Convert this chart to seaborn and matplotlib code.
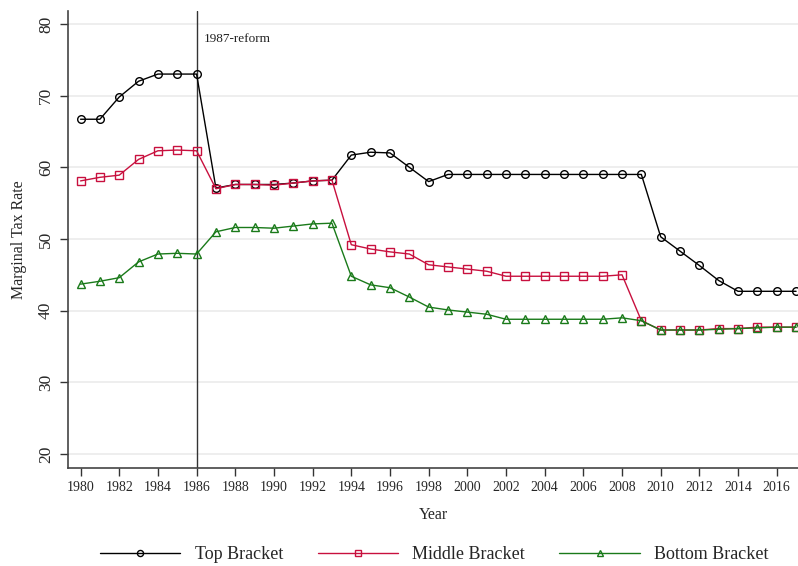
import numpy as np
import pandas as pd
import matplotlib
matplotlib.use("Agg")
import matplotlib.pyplot as plt
import seaborn as sns

years = list(range(1980, 2018))
top = [66.7, 66.7, 69.8, 72.0, 73.0, 73.0, 73.0, 57.1, 57.6, 57.6, 57.6, 57.8, 58.1, 58.2,
       61.7, 62.1, 62.0, 60.0, 58.0, 59.0, 59.0, 59.0, 59.0, 59.0, 59.0, 59.0, 59.0, 59.0,
       59.0, 59.0, 50.3, 48.3, 46.3, 44.2, 42.7, 42.7, 42.7, 42.7]
middle = [58.1, 58.6, 58.9, 61.1, 62.3, 62.4, 62.3, 57.0, 57.6, 57.6, 57.5, 57.8, 58.1, 58.2,
          49.2, 48.6, 48.2, 47.9, 46.4, 46.1, 45.8, 45.5, 44.8, 44.8, 44.8, 44.8, 44.8, 44.8,
          45.0, 38.6, 37.3, 37.3, 37.3, 37.5, 37.5, 37.7, 37.7, 37.7]
bottom = [43.7, 44.1, 44.6, 46.8, 47.9, 48.0, 47.9, 51.0, 51.6, 51.6, 51.5, 51.8, 52.1, 52.2,
          44.8, 43.6, 43.2, 41.9, 40.5, 40.1, 39.8, 39.5, 38.8, 38.8, 38.8, 38.8, 38.8, 38.8,
          39.0, 38.6, 37.3, 37.3, 37.3, 37.4, 37.5, 37.6, 37.7, 37.7]
series_names = ["Top Bracket", "Middle Bracket", "Bottom Bracket"]
xticks = list(range(1980, 2017, 2))
yticks = [20, 30, 40, 50, 60, 70, 80]
reform_year = 1986
reform_label = "1987-reform"

sns.set_theme(style="white")
plt.rcParams['font.family'] = ['Liberation Serif', 'DejaVu Serif']

fig = plt.figure(figsize=(7.98, 5.66), dpi=100)
ax = fig.add_axes([0.0852, 0.1731, 0.9148, 0.8075])

styles = [("black", "o"), ("#c8103e", "s"), ("#1a7a1a", "^")]
for name, vals, (col, mk) in zip(series_names, [top, middle, bottom], styles):
    sns.lineplot(x=years, y=vals, ax=ax, color=col, marker=mk, markersize=5.5,
                 markerfacecolor="none", markeredgecolor=col, markeredgewidth=1.0,
                 linewidth=1.0, label=name)

for y in yticks:
    ax.axhline(y, color="#ebebeb", linewidth=1.2, zorder=0)
ax.axvline(reform_year, color="#333333", linewidth=1.0, zorder=1)
ax.text(reform_year + 0.35, 77.9, reform_label, fontsize=9.5, color="#222222", va="center")

ax.set_xlim(1979.35, 2017.1)
ax.set_ylim(18.05, 81.8)
ax.set_xticks(xticks)
ax.set_yticks(yticks)
ax.tick_params(axis="x", labelsize=10, length=6, width=1, color="#333333", direction="out", bottom=True, pad=3)
ax.tick_params(axis="y", labelsize=12.5, length=6, width=1, color="#333333", direction="out", left=True, pad=4)
for lab in ax.get_yticklabels():
    lab.set_rotation(90)
    lab.set_va("center")
ax.set_xlabel("Year", fontsize=11.5, labelpad=10)
ax.set_ylabel("Marginal Tax Rate", fontsize=11.5, labelpad=8)
sns.despine(ax=ax)
for s in ["left", "bottom"]:
    ax.spines[s].set_color("#444444")
    ax.spines[s].set_linewidth(1.2)

ax.legend(loc="center", bbox_to_anchor=(0.502, -0.19), ncol=3, frameon=False,
          fontsize=13, handlelength=4.45, numpoints=1, columnspacing=1.9, handletextpad=0.8,
          markerscale=0.8)

fig.savefig("out.png", dpi=100)
